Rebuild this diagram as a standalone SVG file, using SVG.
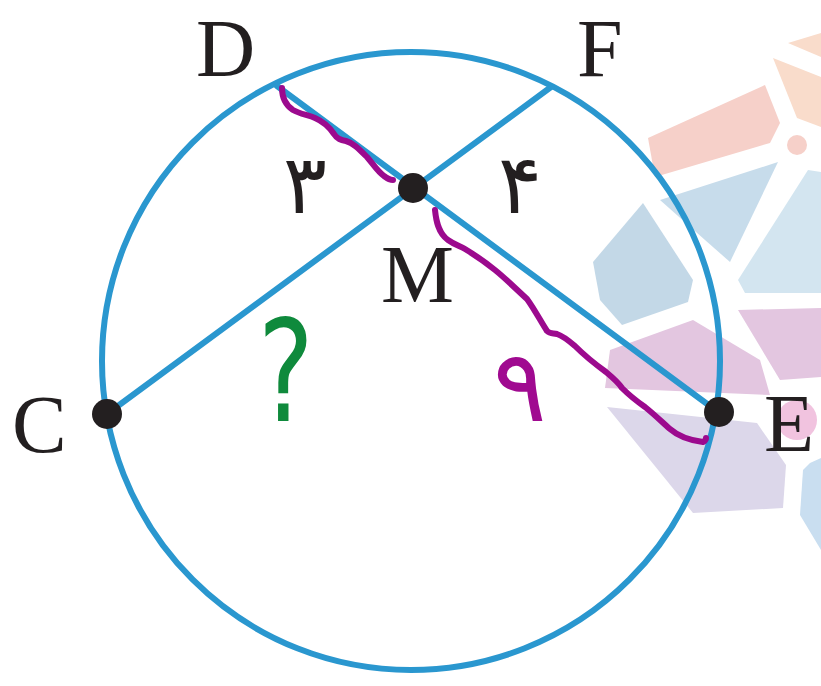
<svg xmlns="http://www.w3.org/2000/svg" width="821" height="686" viewBox="0 0 821 686">
<style>
.geo{fill:none;stroke:#2a97cf;stroke-width:6;stroke-linecap:round}
.dot{fill:#231f20}
.lbl{font-family:"Liberation Serif","Times New Roman",serif;font-size:82px;fill:#231f20}
.num{font-family:"DejaVu Sans",sans-serif;font-size:82px;fill:#231f20}
.ink{fill:none;stroke:#9c0a8e;stroke-width:6;stroke-linecap:round;stroke-linejoin:round}
.bg{stroke:none}
</style>
<rect width="821" height="686" fill="#ffffff"/>
<g id="background">
  <polygon class="bg" fill="#f9dccb" points="788,43 821,33 821,57"/>
  <polygon class="bg" fill="#f9dccb" points="773,58 821,77 821,127 797,118"/>
  <polygon class="bg" fill="#f6d0c9" points="648,138 765,85 780,123 770,143 655,177"/>
  <circle class="bg" fill="#f6d0c9" cx="797" cy="145" r="10"/>
  <polygon class="bg" fill="#c7dceb" points="660,200 778,162 730,262 705,240"/>
  <polygon class="bg" fill="#d3e5f0" points="808,170 821,172 821,293 745,293 738,280"/>
  <polygon class="bg" fill="#c3d8e7" points="593,262 643,203 693,280 688,302 622,325 600,300"/>
  <polygon class="bg" fill="#e3c6e0" points="610,350 693,320 760,360 770,395 605,388"/>
  <polygon class="bg" fill="#e3c6e0" points="738,310 821,308 821,377 780,380"/>
  <polygon class="bg" fill="#dcd7ea" points="607,407 757,423 786,465 783,508 693,513"/>
  <polygon class="bg" fill="#c9def0" points="810,463 821,458 821,550 800,515 803,470"/>
  <circle class="bg" fill="#f1c3df" cx="797" cy="420" r="20"/>
</g>
<g id="connectors">
  <circle id="circle" class="geo" cx="411" cy="361" r="309"/>
  <line class="geo" x1="277" y1="86" x2="718" y2="412"/>
  <line class="geo" x1="107" y1="414" x2="551" y2="87"/>
</g>
<g id="node-D"><text class="lbl" x="196" y="76">D</text></g>
<g id="node-F"><text class="lbl" x="577" y="76">F</text></g>
<g id="node-M"><circle class="dot" cx="413" cy="188" r="15"/><text class="lbl" x="381" y="302">M</text></g>
<g id="node-C"><circle class="dot" cx="107" cy="414" r="15"/><text class="lbl" x="12" y="452">C</text></g>
<g id="node-E"><circle class="dot" cx="719" cy="412" r="15"/><text class="lbl" x="764" y="451">E</text></g>
<g id="labels">
  <text class="num" x="283" y="213">۳</text>
  <text class="num" x="498" y="213">۴</text>
</g>
<g id="annotations">
  <path class="ink" d="M282,88 C282,96 284,104 293,110 C300,114 308,115 315,118 C322,121 328,125 334,134 C337,139 341,140 346,141 C353,143 358,148 367,157 C373,164 378,172 384,176 C388,179 391,180 393,180"/>
  <path class="ink" d="M435,210 C436,220 438,233 448,240 C455,245 460,246 465,249 C475,255 485,262 495,270 C505,278 515,288 527,299 C535,310 541,322 547,331 C550,334 553,333 557,334 C563,336 568,340 575,346 C585,356 595,364 606,372 C612,377 618,382 622,388 C628,394 635,400 645,407 C655,415 662,422 670,429 C678,436 687,440 703,442 C705,441 706,440 706,438"/>
  <text x="493" y="421" style="font-family:'DejaVu Sans',sans-serif;font-size:100px;fill:#a00a90">۹</text>
  <text x="258" y="421" transform="translate(258 0) scale(0.75 1) translate(-258 0)" style="font-family:'DejaVu Sans',sans-serif;font-size:140px;fill:#0f8a3c">?</text>
</g>
</svg>
